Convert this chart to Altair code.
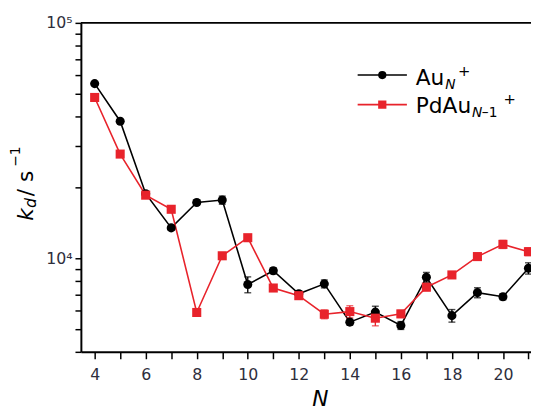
import altair as alt
import pandas as pd

N = list(range(4, 22))
au = [55200, 38200, 18800, 13450, 17260, 17660, 7730, 8850, 7060, 7780, 5350, 5900, 5180, 8300, 5700, 7140, 6860, 9060]
au_err = [800, 600, 400, 300, 400, 700, 600, 250, 200, 300, 150, 350, 200, 400, 350, 350, 200, 500]
pdau = [48200, 27700, 18530, 16140, 5880, 10240, 12220, 7470, 6930, 5780, 5930, 5560, 5800, 7530, 8490, 10160, 11450, 10660]
pdau_err = [500, 300, 300, 200, 150, 200, 350, 200, 150, 250, 350, 400, 200, 250, 200, 200, 450, 400]
series = ["Au", "PdAu"]
colors = ["#000000", "#e8232b"]
shapes = ["circle", "square"]
y_ticks = [4000, 5000, 6000, 7000, 8000, 9000, 10000, 20000, 30000, 40000, 50000, 60000, 70000, 80000, 90000, 100000]

rows = []
for s, vals, errs in [(series[0], au, au_err), (series[1], pdau, pdau_err)]:
    for n, v, e in zip(N, vals, errs):
        rows.append({"N": n, "k": v, "lo": v - e, "hi": v + e, "s": s})
df = pd.DataFrame(rows)

W, H = 457, 334
FONT = "DejaVu Sans"
LBL = "#2e2e3c"

xs = alt.Scale(domain=[3.46, 21.1], nice=False, zero=False)
ys = alt.Scale(type="log", domain=[4000, 100000], nice=False)
cs = alt.Scale(domain=series, range=colors)
ss = alt.Scale(domain=series, range=shapes)

xaxis = alt.Axis(values=N, labelExpr="datum.value % 2 == 0 ? datum.label : ''", tickSize=7,
                 labelPadding=8, labelFontSize=16, labelFont=FONT, labelColor=LBL, domainColor="black",
                 domainWidth=2, tickColor="black", tickWidth=1.5, grid=False, title=None)
yaxis = alt.Axis(values=y_ticks, labelExpr="datum.value == 10000 ? '10⁴' : datum.value == 100000 ? '10⁵' : ''",
                 tickSize=6, labelPadding=3, labelFontSize=16, labelFont=FONT, labelColor=LBL,
                 domainColor="black", domainWidth=2, tickColor="black", tickWidth=1.5, grid=False, title=None)

base = alt.Chart(df)
X = alt.X("N:Q", scale=xs, axis=xaxis)
Y = alt.Y("k:Q", scale=ys, axis=yaxis)

lines = base.mark_line(strokeWidth=1.6).encode(x=X, y=Y, color=alt.Color("s:N", scale=cs, legend=None), detail="s:N")
pts = base.mark_point(filled=True, opacity=1, size=85).encode(
    x=X, y=Y, color=alt.Color("s:N", scale=cs, legend=None), shape=alt.Shape("s:N", scale=ss, legend=None))
err = base.mark_rule(strokeWidth=1.4).encode(x=X, y=alt.Y("lo:Q", scale=ys), y2="hi:Q",
                                              color=alt.Color("s:N", scale=cs, legend=None))
cap_lo = base.mark_tick(orient="horizontal", size=7, thickness=1.4).encode(
    x=X, y=alt.Y("lo:Q", scale=ys), color=alt.Color("s:N", scale=cs, legend=None))
cap_hi = base.mark_tick(orient="horizontal", size=7, thickness=1.4).encode(
    x=X, y=alt.Y("hi:Q", scale=ys), color=alt.Color("s:N", scale=cs, legend=None))

one = alt.Data(values=[{"a": 1}])


def txt(t, x, y, size, style="normal", angle=0, align="left", color="black"):
    m = alt.Chart(one).mark_text(text=t, font=FONT, fontSize=size, fontStyle=style, align=align,
                                 baseline="alphabetic", angle=angle, color=color)
    return m.encode(x=alt.value(x), y=alt.value(y))


top = alt.Chart(one).mark_rule(color="black", strokeWidth=2).encode(
    x=alt.value(0), x2=alt.value(W), y=alt.value(0))

leg = []
for i, (c, sh) in enumerate(zip(colors, shapes)):
    yy = 53 + 30 * i
    leg.append(alt.Chart(one).mark_rule(color=c, strokeWidth=1.6).encode(
        x=alt.value(281), x2=alt.value(331), y=alt.value(yy)))
    leg.append(alt.Chart(one).mark_point(filled=True, opacity=1, shape=sh, color=c, size=70).encode(
        x=alt.value(306), y=alt.value(yy)))

texts = [
    txt("Au", 340, 63, 22),
    txt("N", 370, 67, 14, "italic"),
    txt("+", 383, 54, 15),
    txt("PdAu", 340, 92, 22),
    txt("N", 397, 96, 14, "italic"),
    txt("–1", 407, 96, 14),
    txt("+", 429, 82, 15),
    # y title
    txt("k", -49, 201, 22, "italic", angle=270),
    txt("d", -46, 188, 16, "italic", angle=270),
    txt("/ s", -49, 176, 22, angle=270),
    txt("−1", -62, 146, 14, angle=270),
    # x title
    txt("N", 243, 389, 22, "italic", align="center"),
]

chart = alt.layer(top, lines, err, cap_lo, cap_hi, pts, *leg, *texts).properties(
    width=W, height=H,
    autosize=alt.AutoSizeParams(type="none"),
    padding={"left": 74, "top": 12, "right": 0, "bottom": 60},
).configure_view(stroke="transparent")

chart.save("out.html", embed_options={"renderer": "svg", "actions": False})
